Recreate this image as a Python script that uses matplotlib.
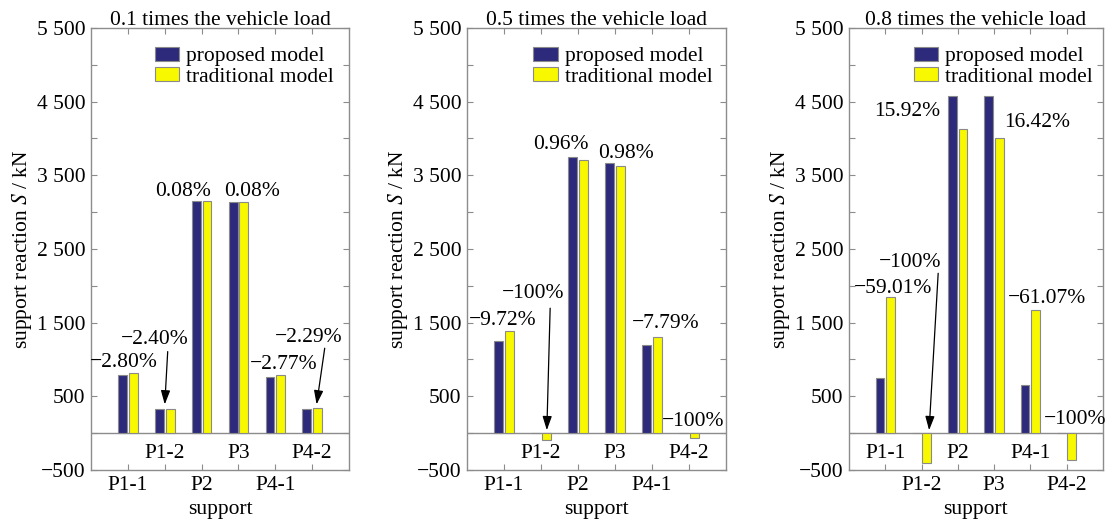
import numpy as np
import matplotlib
matplotlib.use("Agg")
import matplotlib.pyplot as plt
from matplotlib.ticker import FixedLocator, FuncFormatter

# ── Data ──────────────────────────────────────────────────────────────────────
SUPPORTS = ["P1-1", "P1-2", "P2", "P3", "P4-1", "P4-2"]
TITLES = ["0.1 times the vehicle load",
          "0.5 times the vehicle load",
          "0.8 times the vehicle load"]

# support reaction (kN), proposed / traditional model
proposed_01 = [790, 326, 3150, 3138, 766, 333]
traditional_01 = [813, 334, 3148, 3136, 788, 341]
proposed_05 = [1257, 0, 3742, 3663, 1202, 0]
traditional_05 = [1392, -90, 3704, 3627, 1302, -60]
proposed_08 = [755, 0, 4577, 4577, 651, 0]
traditional_08 = [1842, -407, 4125, 4003, 1673, -362]

# difference labels
labels_01 = ["\u22122.80%", "\u22122.40%", "0.08%", "0.08%", "\u22122.77%", "\u22122.29%"]
labels_05 = ["\u22129.72%", "\u2212100%", "0.96%", "0.98%", "\u22127.79%", "\u2212100%"]
labels_08 = ["\u221259.01%", "\u2212100%", "15.92%", "16.42%", "\u221261.07%", "\u2212100%"]

# ── Layout of the annotations (x, y in data units) ────────────────────────────
label_pos_01 = [(0.9, 955), (1.74, 1266), (2.5, 3278), (4.37, 3278), (5.22, 936), (5.91, 1302)]
label_pos_05 = [(0.97, 1524), (1.8, 1900), (2.54, 3912), (4.3, 3800), (5.39, 1492), (6.13, 158)]
label_pos_08 = [(1.22, 1967), (1.68, 2312), (1.61, 4364), (5.19, 4214), (5.45, 1821), (6.23, 190)]
# arrows: (start, tip)
arrows_01 = [((2.08, 1107), (2.0, 390)), ((6.34, 1153), (6.12, 390))]
arrows_05 = [((2.25, 1696), (2.16, 40))]
arrows_08 = [((2.46, 2170), (2.21, 40))]

panels = [
    (proposed_01, traditional_01, labels_01, label_pos_01, arrows_01, False, 0.251),
    (proposed_05, traditional_05, labels_05, label_pos_05, arrows_05, False, 0.262),
    (proposed_08, traditional_08, labels_08, label_pos_08, arrows_08, True, 0.26),
]

# ── Style ─────────────────────────────────────────────────────────────────────
FS = 15.5
plt.rcParams["font.family"] = ["Liberation Serif", "DejaVu Serif"]
plt.rcParams["mathtext.fontset"] = "stix"
plt.rcParams["font.size"] = FS
BLUE = "#2d2a7c"
YELLOW = "#f8f800"
EDGE = "#8a8a8a"
SPINE = "#8c8c8c"

axes_rect = [(0.0818, 0.0962, 0.2318, 0.850),
             (0.4196, 0.0962, 0.2324, 0.850),
             (0.7628, 0.0962, 0.2280, 0.850)]


def ytick_fmt(v, pos):
    if int(round(v)) % 1000 != 500 and int(round(v)) != -500:
        return ""
    s = f"{int(round(v)):,}".replace(",", " ")
    return s.replace("-", "\u2212")


fig = plt.figure(figsize=(11.13, 5.2), dpi=100)
x = np.arange(1, len(SUPPORTS) + 1)
w = 0.24

for i, (prop, trad, labs, lpos, arrs, swap, leg_x) in enumerate(panels):
    ax = fig.add_axes(axes_rect[i])
    ax.bar(x - 0.145, prop, w, color=BLUE, edgecolor=EDGE, linewidth=0.8,
           label="proposed model", zorder=3)
    ax.bar(x + 0.145, trad, w, color=YELLOW, edgecolor=EDGE, linewidth=0.8,
           label="traditional model", zorder=3)
    ax.axhline(0, color=SPINE, lw=1.0, zorder=2)

    ax.set_xlim(0, 7)
    ax.set_ylim(-500, 5500)
    ax.yaxis.set_major_locator(FixedLocator(np.arange(-500, 5501, 500)))
    ax.yaxis.set_major_formatter(FuncFormatter(ytick_fmt))
    ax.set_xticks(x)

    # staggered support labels: half below the axis, half inside it
    outside = [s if (k % 2 == 0) != swap else "" for k, s in enumerate(SUPPORTS)]
    ax.set_xticklabels(outside)
    for k, s in enumerate(SUPPORTS):
        if (k % 2 == 0) == swap:
            ax.text(x[k], -272, s, ha="center", va="center", fontsize=FS)

    ax.tick_params(direction="in", length=4, width=0.8, color=SPINE,
                   top=True, right=True, labelsize=FS, pad=4)
    for sp in ax.spines.values():
        sp.set_color(SPINE)
        sp.set_linewidth(1.0)

    for lab, (tx, ty) in zip(labs, lpos):
        ax.text(tx, ty, lab, ha="center", va="center", fontsize=FS, zorder=4)
    for (sx, sy), (ex, ey) in arrs:
        ax.annotate("", xy=(ex, ey), xytext=(sx, sy),
                    arrowprops=dict(arrowstyle="-|>,head_length=0.6,head_width=0.2",
                                    color="black", lw=0.9,
                                    mutation_scale=14, shrinkA=0, shrinkB=0),
                    zorder=4)

    ax.set_title(TITLES[i], fontsize=FS, pad=2)
    ax.set_xlabel("support", fontsize=FS, labelpad=4)
    ax.set_ylabel("support reaction $S$ / kN", fontsize=FS, labelpad=2)
    ax.legend(loc="upper left", bbox_to_anchor=(leg_x - 0.005, 0.957),
              frameon=False, borderpad=0, borderaxespad=0,
              handlelength=1.15, handleheight=0.6, handletextpad=0.3,
              labelspacing=0.05, fontsize=FS)

fig.savefig("out.png", dpi=100)
